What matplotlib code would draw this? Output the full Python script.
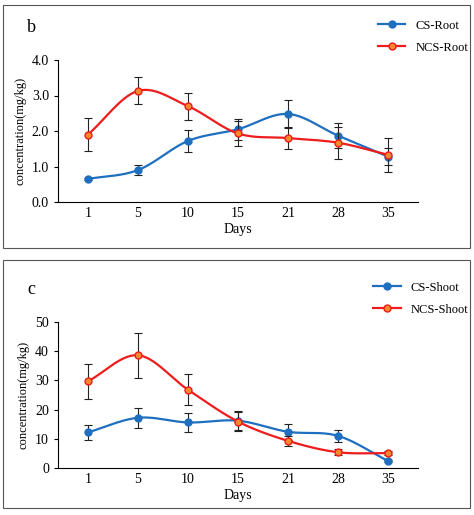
import numpy as np
import matplotlib
matplotlib.use("Agg")
import matplotlib.pyplot as plt
from matplotlib.patches import Rectangle

plt.rcParams['font.family'] = ['Liberation Serif']

days = ['1', '5', '10', '15', '21', '28', '35']
cs_root = [0.65, 0.90, 1.72, 2.05, 2.48, 1.87, 1.28]
cs_root_err = [0.03, 0.13, 0.32, 0.30, 0.40, 0.35, 0.25]
ncs_root = [1.90, 3.13, 2.70, 1.93, 1.80, 1.67, 1.33]
ncs_root_err = [0.47, 0.38, 0.38, 0.35, 0.30, 0.45, 0.48]
cs_shoot = [12.2, 17.2, 15.6, 16.2, 12.4, 11.0, 2.4]
cs_shoot_err = [2.5, 3.4, 3.1, 3.2, 2.7, 2.0, 0.3]
ncs_shoot = [29.7, 38.6, 26.8, 15.9, 9.3, 5.4, 5.1]
ncs_shoot_err = [6.0, 7.7, 5.3, 3.2, 1.7, 1.0, 0.8]

BLUE = '#1f6fc0'
RED = '#ee1c1c'
ORANGE = '#f58a2a'

def smooth(x, y, n=30):
    x = np.asarray(x, float); y = np.asarray(y, float)
    P = np.column_stack([x, y])
    P = np.vstack([P[0] - (P[1] - P[0]), P, P[-1] + (P[-1] - P[-2])])
    out = []
    t = np.linspace(0, 1, n)
    for i in range(1, len(P) - 2):
        p0, p1, p2, p3 = P[i-1], P[i], P[i+1], P[i+2]
        m1 = (p2 - p0) / 2; m2 = (p3 - p1) / 2
        h00 = 2*t**3 - 3*t**2 + 1; h10 = t**3 - 2*t**2 + t
        h01 = -2*t**3 + 3*t**2; h11 = t**3 - t**2
        seg = (h00[:, None]*p1 + h10[:, None]*m1 + h01[:, None]*p2 + h11[:, None]*m2)
        out.append(seg)
    s = np.vstack(out)
    return s[:, 0], s[:, 1]

fig = plt.figure(figsize=(4.74, 5.15), dpi=100)
W, H = 474, 515
for (y0, y1) in [(5, 248), (260, 508)]:
    fig.patches.append(Rectangle((3/W, 1 - y1/H), 467/W, (y1 - y0)/H, transform=fig.transFigure,
                                 fill=False, edgecolor='#555555', lw=0.8))

def panel(rect, label, a, ae, b, be, la, lb, ylim, yticks, fmt):
    ax = fig.add_axes(rect)
    x = np.arange(len(days))
    for vals, err, col, mfc, lab in [(a, ae, BLUE, BLUE, la), (b, be, RED, ORANGE, lb)]:
        sx, sy = smooth(x, vals)
        ax.plot(sx, sy, color=col, lw=1.6)
        ax.errorbar(x, vals, yerr=err, fmt='none', ecolor='#222222', elinewidth=0.8, capsize=3, capthick=0.8)
        ax.plot(x, vals, 'o', color=col, mfc=mfc, mec=col, ms=5, label=lab)
    ax.set_xlim(-0.6, 6.6)
    ax.set_ylim(*ylim)
    ax.set_yticks(yticks)
    ax.set_yticklabels([fmt.format(v) for v in yticks], fontsize=10)
    ax.set_xticks(x)
    ax.set_xticklabels(days, fontsize=10)
    ax.set_xlabel('Days', fontsize=10, labelpad=2)
    ax.set_ylabel('concentration(mg/kg)', fontsize=9)
    for s in ['top', 'right']:
        ax.spines[s].set_visible(False)
    ax.tick_params(axis='x', length=0)
    ax.tick_params(axis='y', length=3, direction='out')
    h = [plt.Line2D([], [], color=BLUE, marker='o', ms=5, lw=1.6),
         plt.Line2D([], [], color=RED, marker='o', mfc=ORANGE, ms=5, lw=1.6)]
    fig.legend(h, [la, lb], loc='upper right', bbox_to_anchor=(rect[0] + rect[2] + 0.13, rect[1] + rect[3] + 0.1),
               frameon=False, fontsize=9, handlelength=2.2, labelspacing=0.8)
    fig.text(rect[0] - 0.065, rect[1] + rect[3] + 0.055, label, fontsize=13)
    return ax

panel([58/W, 1 - 202/H, 360/W, 142/H], 'b', cs_root, cs_root_err, ncs_root, ncs_root_err,
      'CS-Root', 'NCS-Root', (0, 4.0), [0, 1, 2, 3, 4], '{:.1f}')
panel([58/W, 1 - 468/H, 360/W, 146/H], 'c', cs_shoot, cs_shoot_err, ncs_shoot, ncs_shoot_err,
      'CS-Shoot', 'NCS-Shoot', (0, 50), [0, 10, 20, 30, 40, 50], '{:.0f}')

fig.savefig('out.png', dpi=100)
